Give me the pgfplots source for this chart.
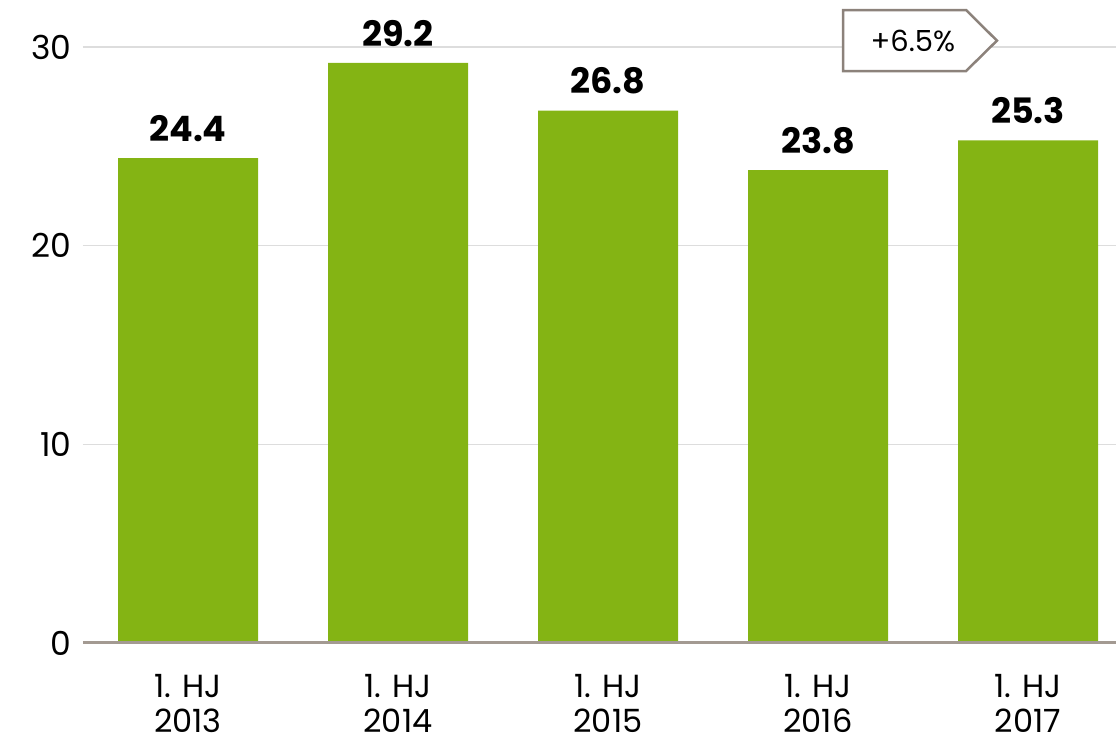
\documentclass[border=0pt]{standalone}
\usepackage{fontspec}
\setmainfont{Poppins}
\usepackage{pgfplots}
\pgfplotsset{compat=1.18}
\definecolor{bargreen}{HTML}{84B414}
\definecolor{basegray}{HTML}{A39A92}
\definecolor{gridgray}{HTML}{DDDDDD}
\definecolor{boxgray}{HTML}{8C827B}
\begin{document}
\begin{tikzpicture}
\begin{axis}[
  scale only axis,
  width=1033pt, height=596pt,
  xmin=-0.5, xmax=4.419,
  ymin=0, ymax=30,
  ytick={0,10,20,30},
  xtick={0,1,2,3,4},
  xticklabels={{1. HJ\\2013},{1. HJ\\2014},{1. HJ\\2015},{1. HJ\\2016},{1. HJ\\2017}},
  xticklabel style={align=center, font=\fontsize{32}{35}\selectfont, yshift=-28pt},
  yticklabel style={font=\fontsize{33}{37}\selectfont, xshift=-8pt},
  /pgf/number format/assume math mode=true,
  major tick length=0pt,
  axis line style={draw=none},
  ymajorgrids, grid style={gridgray, line width=1.5pt},
  clip=false,
]
\addplot[ybar, bar width=140pt, fill=bargreen, draw=none,
  nodes near coords,
  nodes near coords style={font=\fontsize{35}{40}\selectfont\bfseries, black,
    /pgf/number format/fixed, /pgf/number format/fixed zerofill,
    /pgf/number format/precision=1, anchor=south, yshift=13pt}]
  coordinates {(0,24.4) (1,29.2) (2,26.8) (3,23.8) (4,25.3)};
\draw[basegray, line width=3pt] (axis cs:-0.5,0) -- (axis cs:4.419,0);
\draw[boxgray, line width=2.5pt, fill=white, line join=miter]
  (axis cs:3.119,28.79) -- (axis cs:3.119,31.86) -- (axis cs:3.705,31.86)
  -- (axis cs:3.852,30.32) -- (axis cs:3.705,28.79) -- cycle;
\node[font=\fontsize{29}{34}\selectfont] at (axis cs:3.452,30.32) {+6.5\%};
\end{axis}
\pgfresetboundingbox
\path (current axis.south west) ++(-83pt,-100pt) coordinate (bl);
\path (current axis.north east) ++(0pt,47pt) coordinate (tr);
\path[use as bounding box] (bl) rectangle (tr);
\end{tikzpicture}
\end{document}
